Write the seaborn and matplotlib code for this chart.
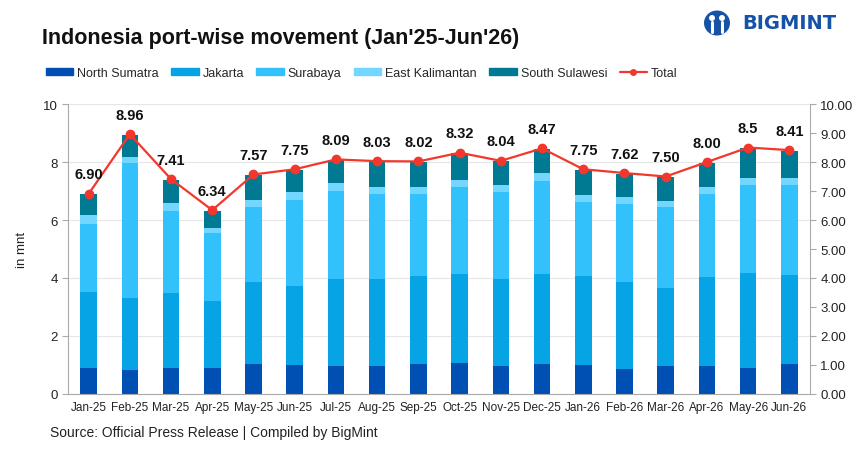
import matplotlib
matplotlib.use("Agg")
import matplotlib.pyplot as plt
import matplotlib.patches as mpatches
from matplotlib.lines import Line2D
import numpy as np
import pandas as pd
import seaborn as sns

months = ['Jan-25', 'Feb-25', 'Mar-25', 'Apr-25', 'May-25', 'Jun-25', 'Jul-25', 'Aug-25', 'Sep-25',
          'Oct-25', 'Nov-25', 'Dec-25', 'Jan-26', 'Feb-26', 'Mar-26', 'Apr-26', 'May-26', 'Jun-26']

north_sumatra = [0.89, 0.84, 0.89, 0.91, 1.03, 1.00, 0.98, 0.98, 1.03,
                 1.07, 0.97, 1.03, 1.00, 0.86, 0.98, 0.97, 0.91, 1.03]
jakarta = [2.63, 2.46, 2.60, 2.30, 2.84, 2.74, 2.99, 2.99, 3.04,
           3.08, 3.01, 3.11, 3.07, 2.99, 2.68, 3.05, 3.26, 3.06]
surabaya = [2.35, 4.65, 2.83, 2.33, 2.59, 2.95, 3.04, 2.92, 2.83,
            2.98, 3.00, 3.22, 2.56, 2.69, 2.80, 2.89, 3.04, 3.11]
east_kalimantan = [0.30, 0.23, 0.25, 0.18, 0.23, 0.28, 0.25, 0.24, 0.25,
                   0.24, 0.23, 0.26, 0.23, 0.24, 0.21, 0.24, 0.23, 0.24]
south_sulawesi = [0.71, 0.76, 0.82, 0.60, 0.86, 0.76, 0.81, 0.89, 0.85,
                  0.93, 0.81, 0.83, 0.87, 0.82, 0.81, 0.83, 1.04, 0.95]
total = [6.90, 8.96, 7.41, 6.34, 7.57, 7.75, 8.09, 8.03, 8.02,
         8.32, 8.04, 8.47, 7.75, 7.62, 7.50, 8.00, 8.50, 8.41]
total_labels = ['6.90', '8.96', '7.41', '6.34', '7.57', '7.75', '8.09', '8.03', '8.02',
                '8.32', '8.04', '8.47', '7.75', '7.62', '7.50', '8.00', '8.5', '8.41']

series = ['North Sumatra', 'Jakarta', 'Surabaya', 'East Kalimantan', 'South Sulawesi']
colors = ['#004FB3', '#06A4E4', '#33C1FB', '#73D6FF', '#007A93']
red = '#F2382D'
logo_blue = '#1652A6'

sns.set_theme(style='white')
plt.rcParams['font.family'] = ['Liberation Sans', 'DejaVu Sans']

df = pd.DataFrame({'month': months, 'North Sumatra': north_sumatra, 'Jakarta': jakarta,
                   'Surabaya': surabaya, 'East Kalimantan': east_kalimantan,
                   'South Sulawesi': south_sulawesi})
cum = df[series].cumsum(axis=1)

fig = plt.figure(figsize=(8.65, 4.56), dpi=100)
ax = fig.add_axes([0.0786, 0.1338, 0.8578, 0.6359])

# stacked bars: draw the cumulative heights from top layer down
for name, col in reversed(list(zip(series, colors))):
    sns.barplot(x=df['month'], y=cum[name], color=col, width=0.4, ax=ax,
                saturation=1, edgecolor='none', linewidth=0, zorder=2)

x = np.arange(len(months))
ax.plot(x, total, color=red, lw=1.6, marker='o', ms=6, zorder=4)
for xi, v, lab in zip(x, total, total_labels):
    ax.annotate(lab, (xi, v), xytext=(0, 9), textcoords='offset points', ha='center',
                va='bottom', fontsize=10.5, fontweight='bold', color='#111111', zorder=5)

ax.set_xlim(-0.5, len(months) - 0.5)
ax.set_ylim(0, 10)
ax.set_yticks([0, 2, 4, 6, 8, 10])
ax.set_xlabel('')
ax.set_ylabel('in mnt', fontsize=9.5, color='#222222')
ax.yaxis.set_label_coords(-0.054, 0.5)
ax.yaxis.grid(True, color='#E6E6E6', lw=0.8, zorder=0)
ax.set_axisbelow(True)
ax.set_xticks(x)
ax.set_xticklabels(months, fontsize=8.5, color='#222222')
ax.set_xticks(np.arange(-0.5, len(months), 1), minor=True)
ax.tick_params(axis='x', which='major', length=0, pad=5)
ax.tick_params(axis='x', which='minor', length=4, color='#AAAAAA', width=0.8)
ax.tick_params(axis='y', labelsize=9.5, labelcolor='#222222', length=4, color='#AAAAAA', width=0.8)
for s in ['top', 'right']:
    ax.spines[s].set_visible(False)
for s in ['left', 'bottom']:
    ax.spines[s].set_color('#AAAAAA')
    ax.spines[s].set_linewidth(0.8)

ax2 = ax.twinx()
ax2.set_ylim(0, 10)
ax2.set_yticks(np.arange(0, 11, 1))
ax2.set_yticklabels([f'{v:.2f}' for v in np.arange(0, 11, 1)])
ax2.tick_params(axis='y', labelsize=9.5, labelcolor='#222222', length=4, color='#AAAAAA', width=0.8)
for s in ['top', 'left', 'bottom']:
    ax2.spines[s].set_visible(False)
ax2.spines['right'].set_color('#AAAAAA')
ax2.spines['right'].set_linewidth(0.8)

fig.text(0.048, 0.915, "Indonesia port-wise movement (Jan'25-Jun'26)", fontsize=15.5,
         fontweight='bold', color='#111111', va='center')

handles = [mpatches.Patch(color=c, label=n) for n, c in zip(series, colors)]
handles.append(Line2D([0], [0], color=red, lw=1.6, marker='o', ms=4, label='Total'))
fig.legend(handles=handles, loc='center left', bbox_to_anchor=(0.04, 0.838), ncol=6,
           frameon=False, fontsize=9, handlelength=2.2, handleheight=0.45,
           columnspacing=1.0, handletextpad=0.3)

# logo: round icon + wordmark
cx, cy = 717 / 865, 1 - 24 / 456
fig.patches.append(mpatches.Ellipse((cx, cy), 26 / 865, 25 / 456, transform=fig.transFigure,
                                    facecolor=logo_blue, edgecolor='none'))
for dx in (-5, 5):
    fig.patches.append(mpatches.Ellipse((cx + dx / 865, cy + 5 / 456), 6 / 865, 6 / 456,
                                        transform=fig.transFigure, facecolor='white',
                                        edgecolor='none'))
    fig.add_artist(Line2D([cx + dx / 865] * 2, [cy - 9 / 456, cy + 1 / 456],
                          transform=fig.transFigure, color='white', lw=2.2))
fig.text(742 / 865, cy, 'BIGMINT', fontsize=14, fontweight='bold', color=logo_blue,
         va='center', ha='left', family='DejaVu Sans')

fig.text(0.058, 0.05, 'Source: Official Press Release | Compiled by BigMint', fontsize=10,
         color='#222222', va='center')

fig.savefig('out.png', dpi=100)
